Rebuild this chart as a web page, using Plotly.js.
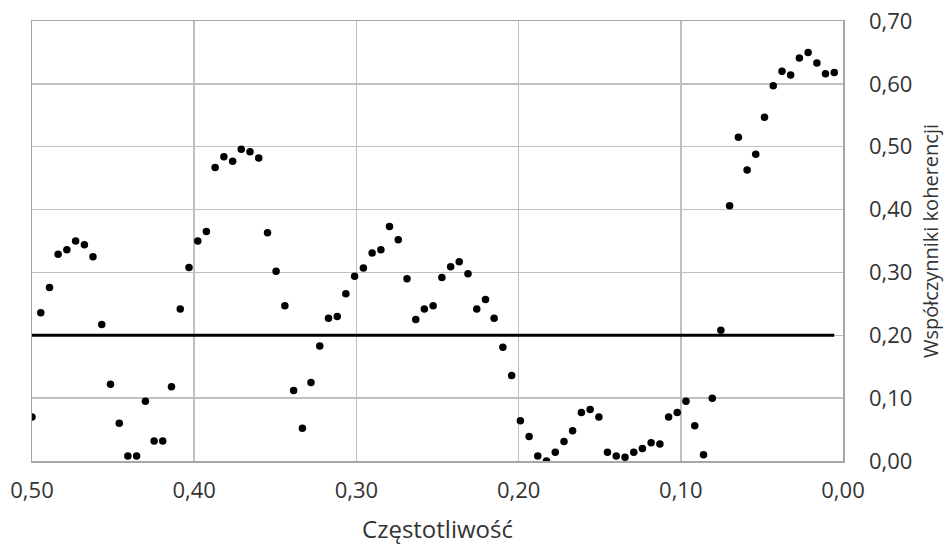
<!DOCTYPE html>
<html>
<head>
<meta charset="utf-8">
<script src="https://cdn.plot.ly/plotly-3.0.1.min.js"></script>
<style>html,body{margin:0;padding:0;background:#fff;}#chart{width:951px;height:545px;}</style>
</head>
<body>
<div id="chart"></div>
<script>
// Frequencies (x) of the coherence estimates
const frequency = [0.5000,0.4946,0.4892,0.4839,0.4785,0.4731,0.4677,0.4624,0.4570,0.4516,
0.4462,0.4409,0.4355,0.4301,0.4247,0.4194,0.4140,0.4086,0.4032,0.3978,
0.3925,0.3871,0.3817,0.3763,0.3710,0.3656,0.3602,0.3548,0.3495,0.3441,
0.3387,0.3333,0.3280,0.3226,0.3172,0.3118,0.3065,0.3011,0.2957,0.2903,
0.2849,0.2796,0.2742,0.2688,0.2634,0.2581,0.2527,0.2473,0.2419,0.2366,
0.2312,0.2258,0.2204,0.2151,0.2097,0.2043,0.1989,0.1935,0.1882,0.1828,
0.1774,0.1720,0.1667,0.1613,0.1559,0.1505,0.1452,0.1398,0.1344,0.1290,
0.1237,0.1183,0.1129,0.1075,0.1022,0.0968,0.0914,0.0860,0.0806,0.0753,
0.0699,0.0645,0.0591,0.0538,0.0484,0.0430,0.0376,0.0323,0.0269,0.0215,
0.0161,0.0108,0.0054];

// Coherence coefficients (y)
const coherence = [0.070,0.236,0.276,0.329,0.336,0.350,0.344,0.325,0.217,0.122,
0.060,0.008,0.008,0.095,0.032,0.032,0.118,0.242,0.308,0.350,
0.365,0.467,0.484,0.477,0.496,0.492,0.482,0.363,0.302,0.247,
0.112,0.052,0.125,0.183,0.227,0.230,0.266,0.294,0.307,0.331,
0.336,0.373,0.352,0.290,0.225,0.242,0.247,0.292,0.309,0.317,
0.298,0.242,0.257,0.227,0.181,0.136,0.064,0.039,0.008,0.000,
0.014,0.031,0.048,0.077,0.082,0.070,0.014,0.008,0.006,0.014,
0.020,0.029,0.027,0.070,0.077,0.095,0.056,0.010,0.100,0.208,
0.406,0.515,0.463,0.488,0.547,0.597,0.620,0.614,0.641,0.650,
0.633,0.616,0.618];

// Critical value line
const thresholdX = [0.5000, 0.0054];
const thresholdY = [0.20, 0.20];

const xTickVals = [0.5, 0.4, 0.3, 0.2, 0.1, 0.0];
const yTickVals = [0, 0.1, 0.2, 0.3, 0.4, 0.5, 0.6, 0.7];

const fontFamily = '"Open Sans", "Noto Sans", sans-serif';

const traces = [
  {
    x: thresholdX, y: thresholdY, type: 'scatter', mode: 'lines',
    line: {color: '#000000', width: 3}, hoverinfo: 'skip', showlegend: false
  },
  {
    x: frequency, y: coherence, type: 'scatter', mode: 'markers',
    marker: {color: '#000000', size: 7.5}, showlegend: false
  }
];

const layout = {
  width: 951, height: 545,
  margin: {l: 32, r: 108, t: 21, b: 84},
  paper_bgcolor: '#ffffff', plot_bgcolor: '#ffffff',
  separators: ', ',
  font: {family: fontFamily, size: 22, color: '#333333'},
  showlegend: false,
  xaxis: {
    range: [0.5, 0.0], autorange: false,
    tickvals: xTickVals, tickformat: '.2f',
    tickfont: {family: fontFamily, size: 22, color: '#333333'},
    showgrid: true, gridcolor: '#c0c0c0', gridwidth: 1.5,
    showline: true, linecolor: '#a6a6a6', linewidth: 1.5, mirror: true,
    zeroline: false, ticks: '', ticklabelstandoff: 9,
    title: {text: 'Częstotliwość', font: {family: fontFamily, size: 24, color: '#333333'}, standoff: 20}
  },
  yaxis: {
    range: [0, 0.7], autorange: false, side: 'right',
    tickvals: yTickVals, tickformat: '.2f',
    tickfont: {family: fontFamily, size: 22, color: '#333333'},
    showgrid: true, gridcolor: '#c0c0c0', gridwidth: 1.5,
    showline: true, linecolor: '#a6a6a6', linewidth: 1.5, mirror: true,
    zeroline: false, ticks: '', ticklabelstandoff: 20,
    title: {text: 'Współczynniki koherencji', font: {family: fontFamily, size: 20, color: '#333333'}, standoff: 12}
  }
};

Plotly.newPlot('chart', traces, layout, {displayModeBar: false, staticPlot: true});
</script>
</body>
</html>
